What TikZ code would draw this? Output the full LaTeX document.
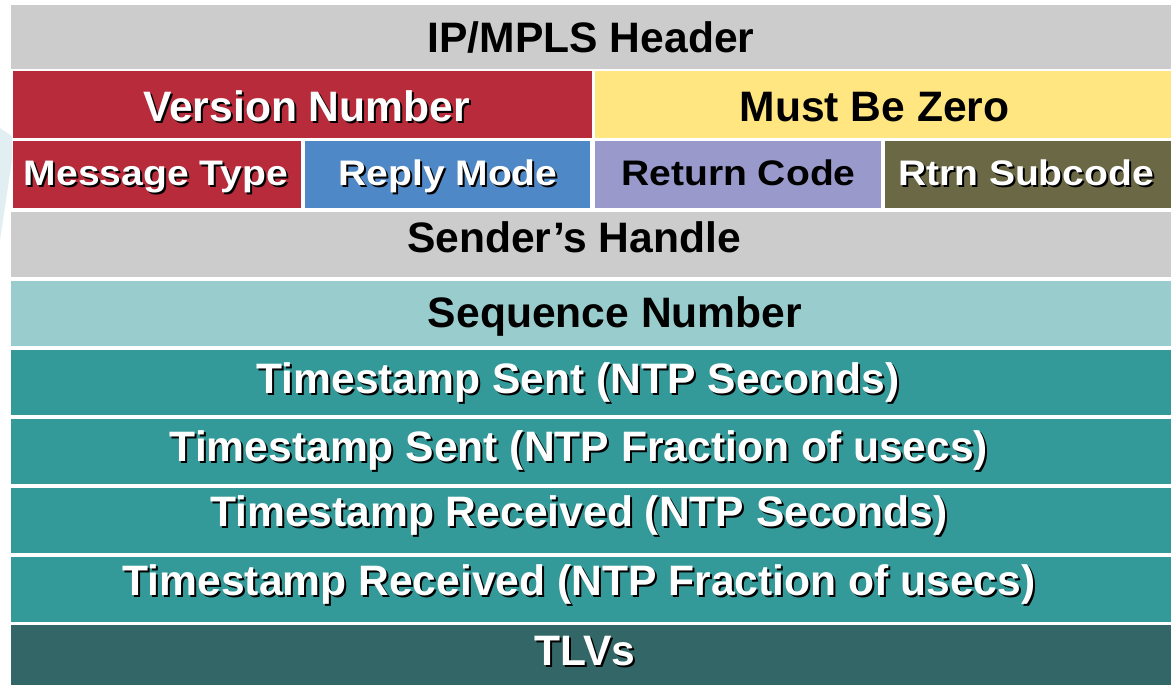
\documentclass[tikz,border=0pt]{standalone}
\usepackage{fontspec}
\setmainfont{Liberation Sans}
\definecolor{cgray}{HTML}{CCCCCC}
\definecolor{cred}{HTML}{B72B3A}
\definecolor{cyellow}{HTML}{FFE680}
\definecolor{cblue}{HTML}{4F88C6}
\definecolor{cpurple}{HTML}{9999CC}
\definecolor{colive}{HTML}{6B6945}
\definecolor{clight}{HTML}{99CCCC}
\definecolor{cteal}{HTML}{339999}
\definecolor{cdark}{HTML}{336666}
\definecolor{cbg}{HTML}{E2EFF2}
\tikzset{
  box/.style={draw=none, rectangle, inner sep=0pt, outer sep=0pt},
  lbl/.style={anchor=base, inner sep=0pt, outer sep=0pt, font=\bfseries\fontsize{42.6}{48}\selectfont},
  lblsmall/.style={anchor=base, inner sep=0pt, outer sep=0pt, font=\bfseries\fontsize{35.5}{40}\selectfont},
}
\newcommand\cellbox[6]{%
  \node[box, fill=#6, minimum width={(#4-#2)*1pt}, minimum height={(#5-#3)*1pt}] (#1) at ({(#2+#4)/2},{(#3+#5)/2}) {};}
\newcommand\wlabel[5]{% name, x, y, style, text
  \node[#4, text=black, xshift=2pt, yshift=-2pt] (#1s) at (#2,#3) {#5};
  \node[#4, text=white] (#1) at (#2,#3) {#5};}
\newcommand\blabel[5]{%
  \node[#4, text=black] (#1) at (#2,#3) {#5};}
\begin{document}
\begin{tikzpicture}[x=1pt,y=-1pt]
\fill[white] (0,0) rectangle (1171,685);
\useasboundingbox (0,0) rectangle (1171,685);
\fill[cbg] (0,128) -- (12,136) -- (12,160) -- (0,240) -- cycle;
% boxes
\cellbox{hdr}{11}{5}{1171}{69}{cgray}
\cellbox{ver}{13}{71}{592}{138}{cred}
\cellbox{mbz}{595}{71}{1171}{138}{cyellow}
\cellbox{mt}{13}{141}{301}{208}{cred}
\cellbox{rm}{305}{141}{590}{208}{cblue}
\cellbox{rc}{595}{141}{881}{208}{cpurple}
\cellbox{rs}{885}{141}{1171}{208}{colive}
\cellbox{sh}{11}{212}{1171}{277}{cgray}
\cellbox{sn}{11}{281}{1171}{346}{clight}
\cellbox{ta}{11}{350}{1171}{415}{cteal}
\cellbox{tb}{11}{419}{1171}{484}{cteal}
\cellbox{tc}{11}{488}{1171}{553}{cteal}
\cellbox{td}{11}{557}{1171}{622}{cteal}
\cellbox{tlv}{11}{625}{1171}{685}{cdark}
% labels
\blabel{hdrt}{591}{52.5}{lbl}{IP/MPLS Header}
\wlabel{vert}{306.5}{121.5}{lbl}{Version Number}
\blabel{mbzt}{874.5}{121.5}{lbl}{Must Be Zero}
\wlabel{mtt}{156}{185.5}{lblsmall}{\scalebox{1.1}[1]{Message Type}}
\wlabel{rmt}{448}{185.5}{lblsmall}{\scalebox{1.1}[1]{Reply Mode}}
\blabel{rct}{738.5}{185.5}{lblsmall}{\scalebox{1.1}[1]{Return Code}}
\wlabel{rst}{1026}{185.5}{lblsmall}{\scalebox{1.1}[1]{Rtrn Subcode}}
\blabel{sht}{574}{252}{lbl}{Sender’s Handle}
\blabel{snt}{615}{327}{lbl}{Sequence Number}
\wlabel{tat}{578}{393}{lbl}{Timestamp Sent (NTP Seconds)}
\wlabel{tbt}{579}{461}{lbl}{Timestamp Sent (NTP Fraction of usecs)}
\wlabel{tct}{579}{526}{lbl}{Timestamp Received (NTP Seconds)}
\wlabel{tdt}{579}{595}{lbl}{Timestamp Received (NTP Fraction of usecs)}
\wlabel{tlvt}{585}{665}{lbl}{TLVs}
\end{tikzpicture}
\end{document}
